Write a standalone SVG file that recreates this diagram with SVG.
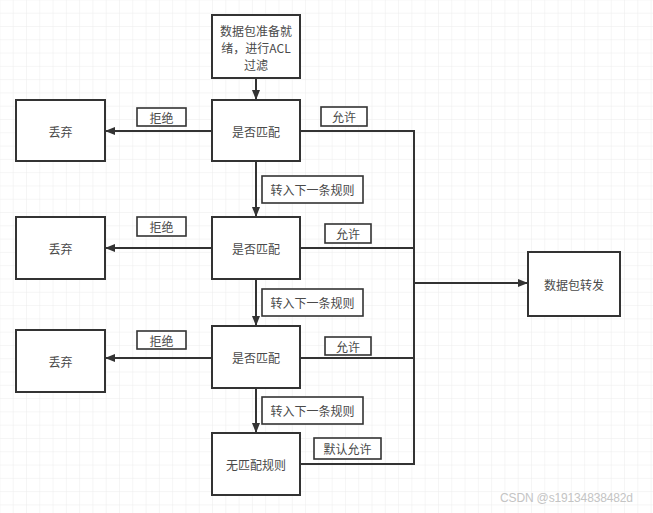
<svg xmlns="http://www.w3.org/2000/svg" width="653" height="513" viewBox="0 0 653 513">
<defs>
<pattern id="grid" x="12.7" y="12.7" width="13.29" height="13.29" patternUnits="userSpaceOnUse">
<path d="M0 0 H13.29 M0 0 V13.29" fill="none" stroke="#ececec" stroke-width="1"/>
</pattern>
<marker id="arr" viewBox="0 0 10 8" refX="10" refY="4" markerWidth="10" markerHeight="8" markerUnits="userSpaceOnUse" orient="auto">
<path d="M0 0 L10 4 L0 8 Z" fill="#333"/>
</marker>
<style>
.box{fill:#fff;stroke:#333;stroke-width:2}
.lbl{fill:#fff;stroke:#333;stroke-width:1.6}
.t{font-family:"Noto Sans CJK SC","Noto Sans",sans-serif;font-size:12px;fill:#4a4a4a;text-anchor:middle;dominant-baseline:central}
.c{fill:none;stroke:#333;stroke-width:2}
</style>
</defs>
<rect width="653" height="513" fill="#fff"/>
<rect width="653" height="513" fill="url(#grid)"/>

<g id="connectors">
<path class="c" d="M256 78 V100" marker-end="url(#arr)"/>
<path class="c" d="M212 131 H105" marker-end="url(#arr)"/>
<path class="c" d="M256 161 V217" marker-end="url(#arr)"/>
<path class="c" d="M212 248 H105" marker-end="url(#arr)"/>
<path class="c" d="M256 279 V326" marker-end="url(#arr)"/>
<path class="c" d="M212 358 H105" marker-end="url(#arr)"/>
<path class="c" d="M256 388 V433" marker-end="url(#arr)"/>
<path class="c" d="M300 131 H414 V464 H300"/>
<path class="c" d="M300 248 H414"/>
<path class="c" d="M300 358 H414"/>
<path class="c" d="M414 283 H528" marker-end="url(#arr)"/>
</g>

<g id="start"><rect class="box" x="212" y="15" width="88" height="63"/>
<text class="t" x="256" y="30">数据包准备就</text><text class="t" x="256" y="47">绪，进行ACL</text><text class="t" x="256" y="64">过滤</text></g>
<g id="m1"><rect class="box" x="212" y="100" width="88" height="61"/><text class="t" x="256" y="131">是否匹配</text></g>
<g id="m2"><rect class="box" x="212" y="217" width="88" height="62"/><text class="t" x="256" y="248">是否匹配</text></g>
<g id="m3"><rect class="box" x="212" y="326" width="88" height="62"/><text class="t" x="256" y="357">是否匹配</text></g>
<g id="nomatch"><rect class="box" x="212" y="433" width="88" height="62"/><text class="t" x="256" y="464">无匹配规则</text></g>
<g id="d1"><rect class="box" x="16" y="100" width="89" height="61"/><text class="t" x="60.5" y="131">丢弃</text></g>
<g id="d2"><rect class="box" x="16" y="217" width="89" height="62"/><text class="t" x="60.5" y="248">丢弃</text></g>
<g id="d3"><rect class="box" x="16" y="330" width="89" height="62"/><text class="t" x="60.5" y="361">丢弃</text></g>
<g id="fwd"><rect class="box" x="528" y="252" width="92" height="64"/><text class="t" x="574" y="284">数据包转发</text></g>

<g id="labels">
<g id="rej1"><rect class="lbl" x="137" y="108" width="49" height="18"/><text class="t" x="161.5" y="117">拒绝</text></g>
<g id="rej2"><rect class="lbl" x="137" y="217" width="49" height="19"/><text class="t" x="161.5" y="226.5">拒绝</text></g>
<g id="rej3"><rect class="lbl" x="137" y="331" width="49" height="18"/><text class="t" x="161.5" y="340">拒绝</text></g>
<g id="acc1"><rect class="lbl" x="321" y="107" width="46" height="19"/><text class="t" x="344" y="116.5">允许</text></g>
<g id="acc2"><rect class="lbl" x="325" y="224" width="46" height="19"/><text class="t" x="348" y="233.5">允许</text></g>
<g id="acc3"><rect class="lbl" x="325" y="337" width="46" height="18"/><text class="t" x="348" y="346">允许</text></g>
<g id="next1"><rect class="lbl" x="262" y="176" width="101" height="27"/><text class="t" x="312.5" y="189.5">转入下一条规则</text></g>
<g id="next2"><rect class="lbl" x="262" y="289" width="101" height="27"/><text class="t" x="312.5" y="302.5">转入下一条规则</text></g>
<g id="next3"><rect class="lbl" x="262" y="397" width="101" height="27"/><text class="t" x="312.5" y="410.5">转入下一条规则</text></g>
<g id="defacc"><rect class="lbl" x="314" y="438" width="67" height="21"/><text class="t" x="347.5" y="448.5">默认允许</text></g>
</g>

<text x="500" y="502" font-family="Liberation Sans, sans-serif" font-size="12" fill="#c4c4c4" textLength="133">CSDN @s19134838482d</text>
</svg>
